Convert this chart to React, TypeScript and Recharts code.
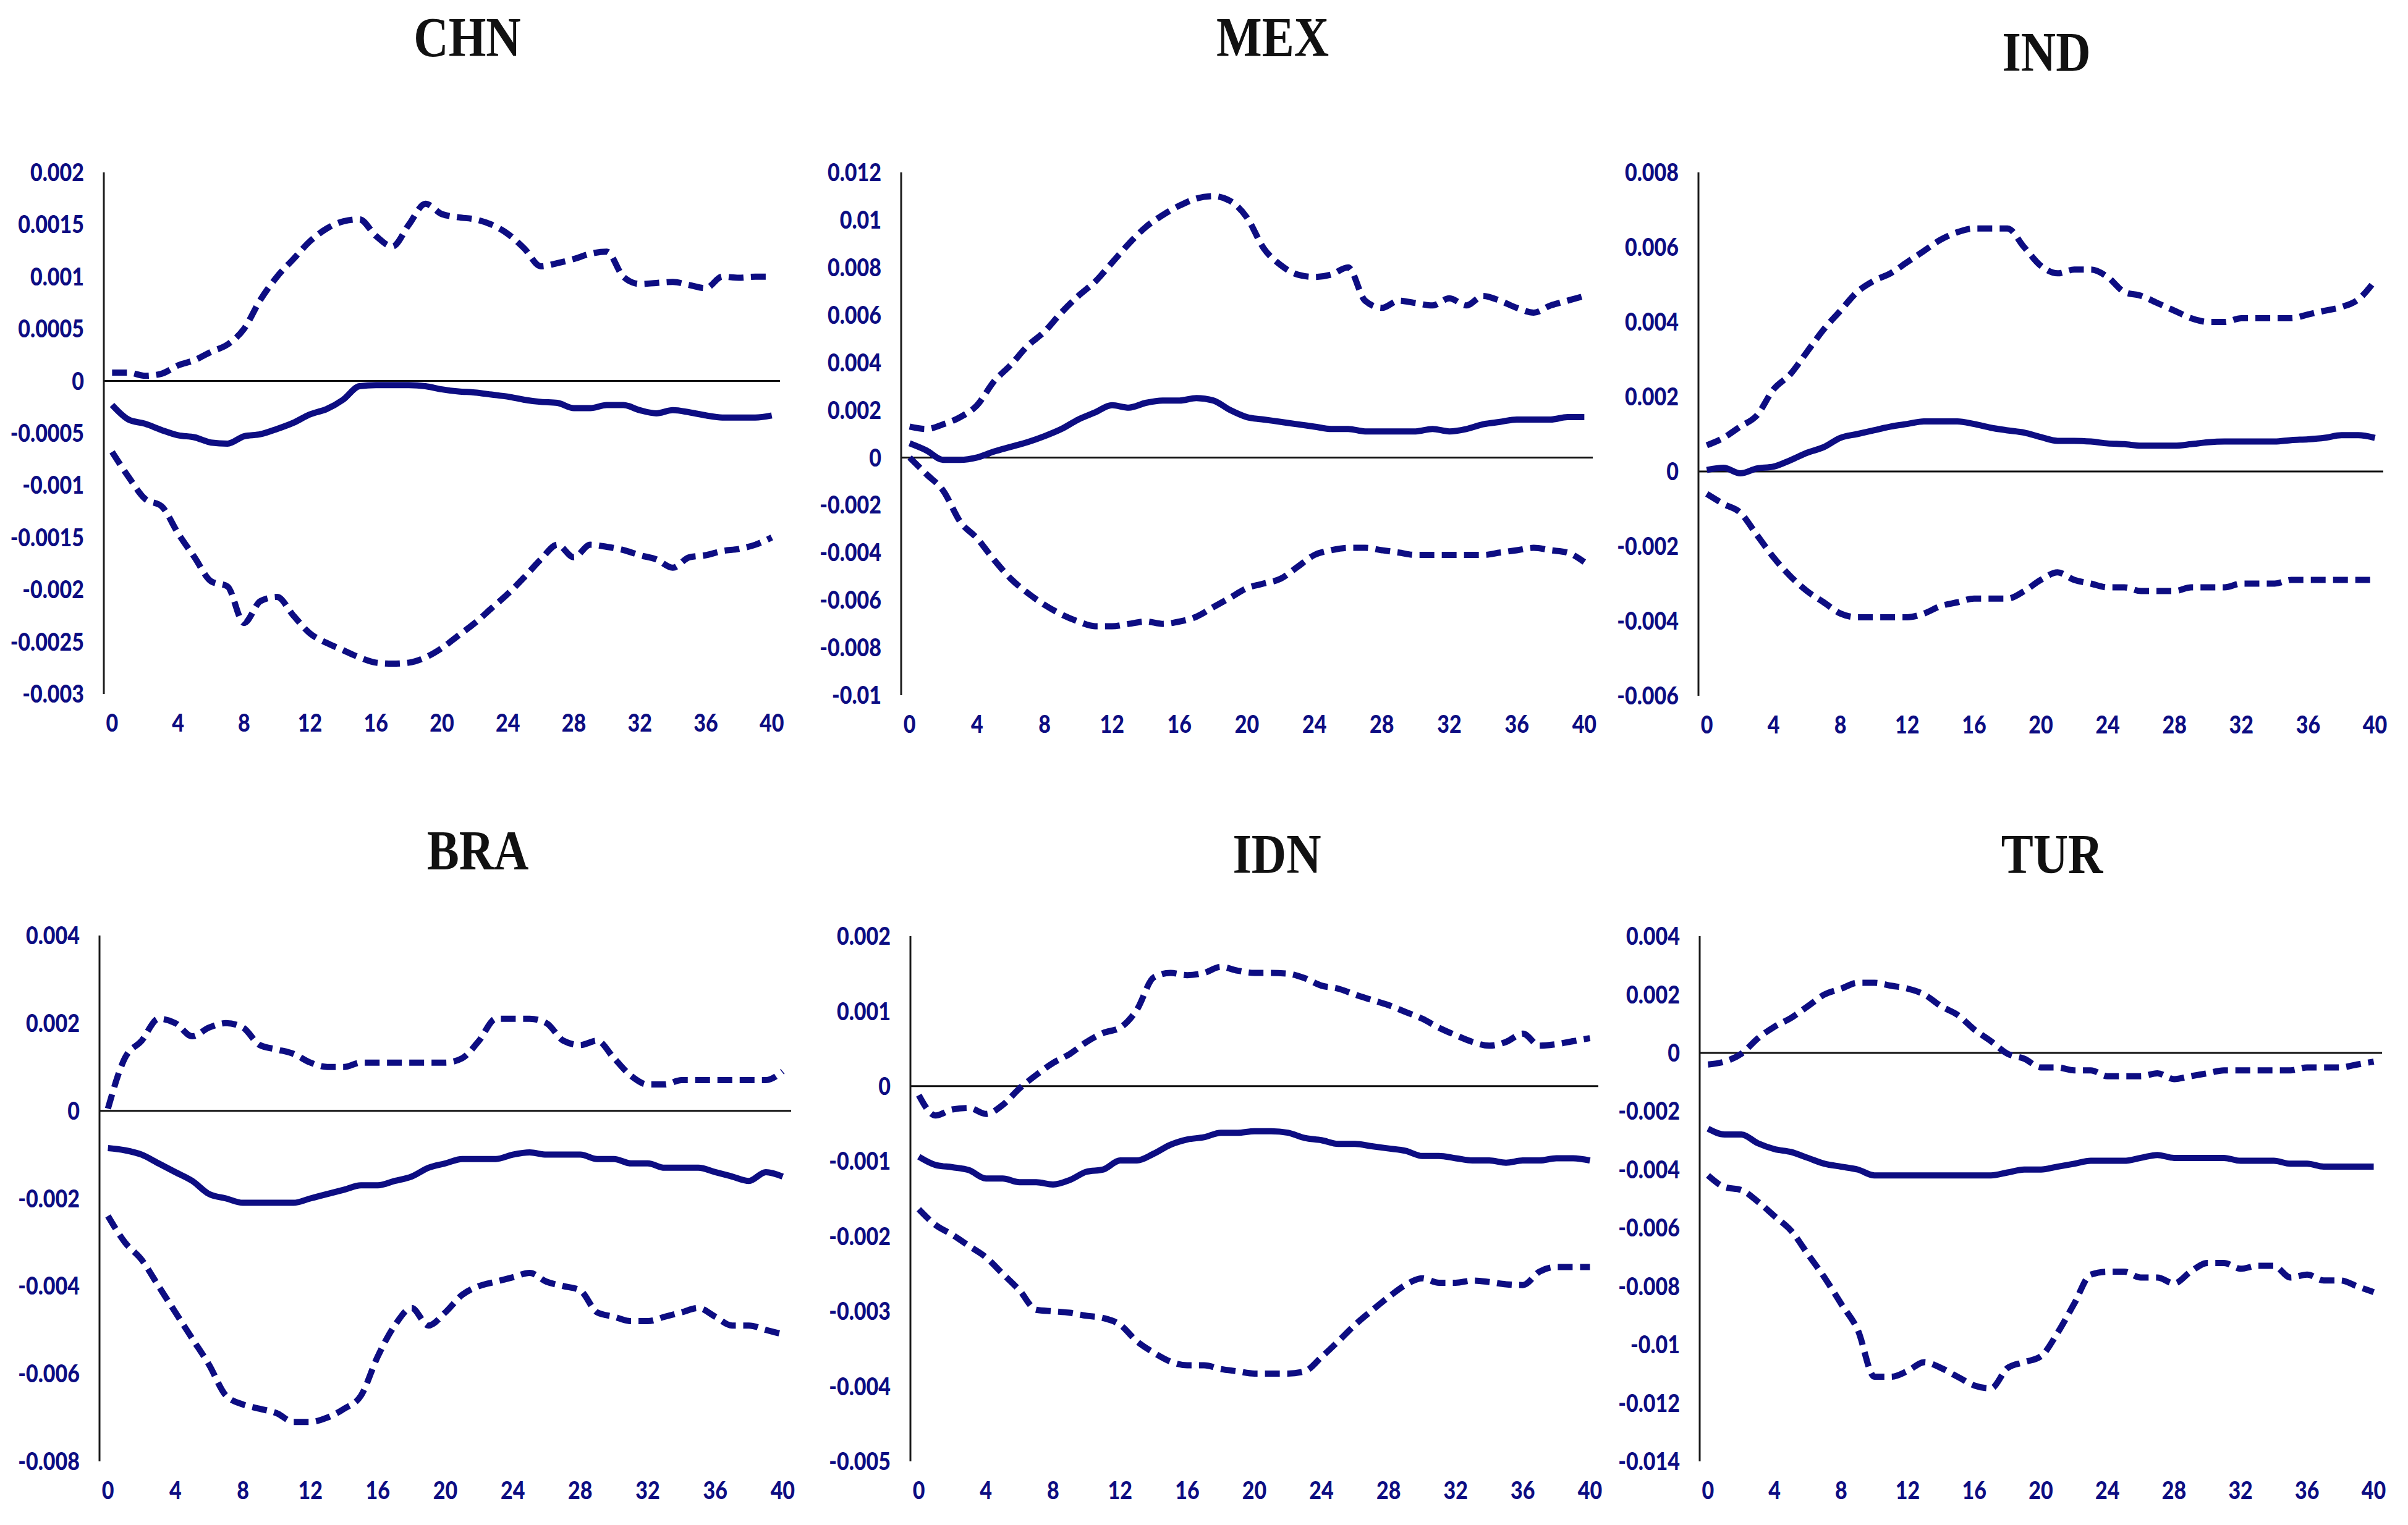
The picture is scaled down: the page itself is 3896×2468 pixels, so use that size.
import { LineChart, Line, XAxis, YAxis, ReferenceLine } from "recharts";

// horizon (quarters) and the labelled ticks on the x axis
const HORIZON = [0, 1, 2, 3, 4, 5, 6, 7, 8, 9, 10, 11, 12, 13, 14, 15, 16, 17, 18, 19, 20, 21, 22, 23, 24, 25, 26, 27, 28, 29, 30, 31, 32, 33, 34, 35, 36, 37, 38, 39, 40];
const HORIZON_TICKS = [0, 4, 8, 12, 16, 20, 24, 28, 32, 36, 40];

// CHN
const CHN_UP = [0.00008, 0.00008, 0.00005, 0.00007, 0.00015, 0.0002, 0.00028, 0.00035, 0.0005, 0.00078, 0.001, 0.00117, 0.00134, 0.00146, 0.00153, 0.00155, 0.00139, 0.00129, 0.0015, 0.0017, 0.0016, 0.00157, 0.00155, 0.0015, 0.00141, 0.00127, 0.0011, 0.00113, 0.00117, 0.00122, 0.00124, 0.001, 0.00093, 0.00094, 0.00095, 0.00092, 0.00089, 0.001, 0.00099, 0.001, 0.001];
const CHN_IRF = [-0.00023, -0.00037, -0.00041, -0.00047, -0.00052, -0.00054, -0.00059, -0.0006, -0.00053, -0.00051, -0.00046, -0.0004, -0.00032, -0.00027, -0.00018, -0.00005, -0.00004, -0.00004, -0.00004, -0.00005, -0.00008, -0.0001, -0.00011, -0.00013, -0.00015, -0.00018, -0.0002, -0.00021, -0.00026, -0.00026, -0.00023, -0.00023, -0.00028, -0.00031, -0.00028, -0.0003, -0.00033, -0.00035, -0.00035, -0.00035, -0.00033];
const CHN_LO = [-0.00068, -0.00092, -0.00113, -0.0012, -0.00146, -0.00169, -0.00192, -0.00197, -0.00232, -0.00211, -0.00207, -0.00225, -0.00242, -0.00251, -0.00258, -0.00265, -0.0027, -0.00271, -0.0027, -0.00265, -0.00256, -0.00244, -0.00232, -0.00218, -0.00204, -0.00188, -0.00171, -0.00157, -0.00169, -0.00157, -0.00159, -0.00162, -0.00167, -0.00171, -0.00179, -0.00169, -0.00167, -0.00163, -0.00161, -0.00157, -0.0015];
const CHN_TICKS = [-0.003, -0.0025, -0.002, -0.0015, -0.001, -0.0005, 0, 0.0005, 0.001, 0.0015, 0.002];

// MEX
const MEX_UP = [0.0013, 0.0012, 0.0014, 0.0017, 0.0022, 0.0032, 0.0039, 0.0047, 0.0053, 0.0061, 0.0068, 0.0074, 0.0082, 0.009, 0.0097, 0.0102, 0.0106, 0.0109, 0.011, 0.0108, 0.0101, 0.0088, 0.0081, 0.0077, 0.0076, 0.0077, 0.008, 0.0066, 0.0063, 0.0066, 0.0065, 0.0064, 0.0067, 0.0064, 0.0068, 0.0066, 0.0063, 0.0061, 0.0064, 0.0066, 0.0068];
const MEX_IRF = [0.0006, 0.0003, -0.0001, -0.0001, 0, 0.00025, 0.00045, 0.00065, 0.0009, 0.0012, 0.0016, 0.0019, 0.0022, 0.0021, 0.0023, 0.0024, 0.0024, 0.0025, 0.0024, 0.002, 0.0017, 0.0016, 0.0015, 0.0014, 0.0013, 0.0012, 0.0012, 0.0011, 0.0011, 0.0011, 0.0011, 0.0012, 0.0011, 0.0012, 0.0014, 0.0015, 0.0016, 0.0016, 0.0016, 0.0017, 0.0017];
const MEX_LO = [0, -0.0007, -0.0014, -0.0027, -0.0034, -0.0043, -0.0051, -0.0057, -0.0062, -0.0066, -0.0069, -0.0071, -0.0071, -0.007, -0.0069, -0.007, -0.0069, -0.0067, -0.0063, -0.0059, -0.0055, -0.0053, -0.0051, -0.0046, -0.0041, -0.0039, -0.0038, -0.0038, -0.0039, -0.004, -0.0041, -0.0041, -0.0041, -0.0041, -0.0041, -0.004, -0.0039, -0.0038, -0.0039, -0.004, -0.0044];
const MEX_TICKS = [-0.01, -0.008, -0.006, -0.004, -0.002, 0, 0.002, 0.004, 0.006, 0.008, 0.01, 0.012];

// IND
const IND_UP = [0.0007, 0.0009, 0.0012, 0.0015, 0.0022, 0.0026, 0.0032, 0.0038, 0.0043, 0.0048, 0.0051, 0.0053, 0.0056, 0.0059, 0.0062, 0.0064, 0.0065, 0.0065, 0.0065, 0.006, 0.0055, 0.0053, 0.0054, 0.0054, 0.0052, 0.0048, 0.0047, 0.0045, 0.0043, 0.0041, 0.004, 0.004, 0.0041, 0.0041, 0.0041, 0.0041, 0.0042, 0.0043, 0.0044, 0.0046, 0.0051];
const IND_IRF = [0.00004, 0.0001, -0.00005, 0.00008, 0.00013, 0.0003, 0.0005, 0.00065, 0.0009, 0.001, 0.0011, 0.0012, 0.00127, 0.00134, 0.00134, 0.00134, 0.00127, 0.00117, 0.0011, 0.00104, 0.00092, 0.00082, 0.00082, 0.0008, 0.00075, 0.00073, 0.00069, 0.00069, 0.00069, 0.00073, 0.00078, 0.0008, 0.0008, 0.0008, 0.0008, 0.00084, 0.00086, 0.0009, 0.00097, 0.00097, 0.0009];
const IND_LO = [-0.0006, -0.00087, -0.0011, -0.0017, -0.0023, -0.0028, -0.0032, -0.0035, -0.0038, -0.0039, -0.0039, -0.0039, -0.0039, -0.0038, -0.0036, -0.0035, -0.0034, -0.0034, -0.0034, -0.0032, -0.0029, -0.0027, -0.0029, -0.003, -0.0031, -0.0031, -0.0032, -0.0032, -0.0032, -0.0031, -0.0031, -0.0031, -0.003, -0.003, -0.003, -0.0029, -0.0029, -0.0029, -0.0029, -0.0029, -0.0029];
const IND_TICKS = [-0.006, -0.004, -0.002, 0, 0.002, 0.004, 0.006, 0.008];

// BRA
const BRA_UP = [0.00005, 0.0012, 0.0016, 0.0021, 0.002, 0.0017, 0.0019, 0.002, 0.0019, 0.0015, 0.0014, 0.0013, 0.0011, 0.001, 0.001, 0.0011, 0.0011, 0.0011, 0.0011, 0.0011, 0.0011, 0.0012, 0.0016, 0.0021, 0.0021, 0.0021, 0.002, 0.0016, 0.0015, 0.0016, 0.0012, 0.0008, 0.0006, 0.0006, 0.0007, 0.0007, 0.0007, 0.0007, 0.0007, 0.0007, 0.0009];
const BRA_IRF = [-0.00085, -0.0009, -0.001, -0.0012, -0.0014, -0.0016, -0.0019, -0.002, -0.0021, -0.0021, -0.0021, -0.0021, -0.002, -0.0019, -0.0018, -0.0017, -0.0017, -0.0016, -0.0015, -0.0013, -0.0012, -0.0011, -0.0011, -0.0011, -0.001, -0.00095, -0.001, -0.001, -0.001, -0.0011, -0.0011, -0.0012, -0.0012, -0.0013, -0.0013, -0.0013, -0.0014, -0.0015, -0.0016, -0.0014, -0.0015];
const BRA_LO = [-0.0024, -0.003, -0.0034, -0.004, -0.0046, -0.0052, -0.0058, -0.0065, -0.0067, -0.0068, -0.0069, -0.0071, -0.0071, -0.007, -0.0068, -0.0065, -0.0056, -0.0049, -0.0045, -0.0049, -0.0046, -0.0042, -0.004, -0.0039, -0.0038, -0.0037, -0.0039, -0.004, -0.0041, -0.0046, -0.0047, -0.0048, -0.0048, -0.0047, -0.0046, -0.0045, -0.0047, -0.0049, -0.0049, -0.005, -0.0051];
const BRA_TICKS = [-0.008, -0.006, -0.004, -0.002, 0, 0.002, 0.004];

// IDN
const IDN_UP = [-0.00012, -0.00039, -0.00031, -0.00029, -0.00037, -0.00025, -0.00003, 0.00015, 0.00031, 0.00043, 0.00059, 0.00071, 0.00078, 0.00102, 0.00145, 0.00151, 0.00148, 0.00151, 0.00159, 0.00154, 0.00151, 0.00151, 0.0015, 0.00144, 0.00134, 0.0013, 0.00122, 0.00115, 0.00108, 0.00099, 0.0009, 0.00078, 0.00068, 0.00059, 0.00054, 0.00059, 0.0007, 0.00054, 0.00056, 0.0006, 0.00064];
const IDN_IRF = [-0.00094, -0.00105, -0.00108, -0.00112, -0.00123, -0.00123, -0.00128, -0.00128, -0.00131, -0.00125, -0.00114, -0.00111, -0.00099, -0.00099, -0.0009, -0.00078, -0.00071, -0.00068, -0.00062, -0.00062, -0.0006, -0.0006, -0.00062, -0.00069, -0.00072, -0.00077, -0.00077, -0.0008, -0.00083, -0.00086, -0.00093, -0.00093, -0.00096, -0.00099, -0.00099, -0.00102, -0.00099, -0.00099, -0.00096, -0.00096, -0.00099];
const IDN_LO = [-0.00164, -0.00185, -0.00198, -0.00213, -0.00228, -0.0025, -0.00272, -0.00298, -0.003, -0.00302, -0.00306, -0.00309, -0.00318, -0.0034, -0.00355, -0.00367, -0.00372, -0.00372, -0.00377, -0.0038, -0.00383, -0.00383, -0.00383, -0.0038, -0.00361, -0.0034, -0.00318, -0.00299, -0.00281, -0.00265, -0.00256, -0.00262, -0.00262, -0.00259, -0.00261, -0.00264, -0.00265, -0.00247, -0.00241, -0.00241, -0.00241];
const IDN_TICKS = [-0.005, -0.004, -0.003, -0.002, -0.001, 0, 0.001, 0.002];

// TUR
const TUR_UP = [-0.0004, -0.0003, -0.00003, 0.0005, 0.0009, 0.0012, 0.0016, 0.002, 0.0022, 0.0024, 0.0024, 0.0023, 0.0022, 0.002, 0.0016, 0.0013, 0.0008, 0.0004, -0.00003, -0.0002, -0.0005, -0.0005, -0.0006, -0.0006, -0.0008, -0.0008, -0.0008, -0.0007, -0.0009, -0.0008, -0.0007, -0.0006, -0.0006, -0.0006, -0.0006, -0.0006, -0.0005, -0.0005, -0.0005, -0.0004, -0.0003];
const TUR_IRF = [-0.0026, -0.0028, -0.0028, -0.0031, -0.0033, -0.0034, -0.0036, -0.0038, -0.0039, -0.004, -0.0042, -0.0042, -0.0042, -0.0042, -0.0042, -0.0042, -0.0042, -0.0042, -0.0041, -0.004, -0.004, -0.0039, -0.0038, -0.0037, -0.0037, -0.0037, -0.0036, -0.0035, -0.0036, -0.0036, -0.0036, -0.0036, -0.0037, -0.0037, -0.0037, -0.0038, -0.0038, -0.0039, -0.0039, -0.0039, -0.0039];
const TUR_LO = [-0.0042, -0.0046, -0.0047, -0.0051, -0.0056, -0.0061, -0.0069, -0.0077, -0.0086, -0.0095, -0.0111, -0.0111, -0.0109, -0.0106, -0.0108, -0.0111, -0.0114, -0.0115, -0.0108, -0.0106, -0.0104, -0.0096, -0.0086, -0.0076, -0.0075, -0.0075, -0.0077, -0.0077, -0.0079, -0.0075, -0.0072, -0.0072, -0.0074, -0.0073, -0.0073, -0.0077, -0.0076, -0.0078, -0.0078, -0.008, -0.0082];
const TUR_TICKS = [-0.014, -0.012, -0.01, -0.008, -0.006, -0.004, -0.002, 0, 0.002, 0.004];

const NAVY = "#0d0d82";
const Y_AXIS_W = 170;
const X_AXIS_H = 100;
const PAD_TOP = 30;
const PAD_RIGHT = 10;

// where each panel sits on the page (plot area edges, title centre)
const PANELS = [
  { title: "CHN", up: CHN_UP, irf: CHN_IRF, lo: CHN_LO, ticks: CHN_TICKS, box: { axisX: 168, plotRight: 1262, plotTop: 279, plotBottom: 1123, titleX: 756, titleY: 60 } },
  { title: "MEX", up: MEX_UP, irf: MEX_IRF, lo: MEX_LO, ticks: MEX_TICKS, box: { axisX: 1458, plotRight: 2577, plotTop: 279, plotBottom: 1125, titleX: 2059, titleY: 60 } },
  { title: "IND", up: IND_UP, irf: IND_IRF, lo: IND_LO, ticks: IND_TICKS, box: { axisX: 2748, plotRight: 3856, plotTop: 279, plotBottom: 1126, titleX: 3311, titleY: 84 } },
  { title: "BRA", up: BRA_UP, irf: BRA_IRF, lo: BRA_LO, ticks: BRA_TICKS, box: { axisX: 161, plotRight: 1280, plotTop: 1514, plotBottom: 2365, titleX: 773, titleY: 1376 } },
  { title: "IDN", up: IDN_UP, irf: IDN_IRF, lo: IDN_LO, ticks: IDN_TICKS, box: { axisX: 1473, plotRight: 2586, plotTop: 1515, plotBottom: 2365, titleX: 2066, titleY: 1382 } },
  { title: "TUR", up: TUR_UP, irf: TUR_IRF, lo: TUR_LO, ticks: TUR_TICKS, box: { axisX: 2750, plotRight: 3854, plotTop: 1515, plotBottom: 2365, titleX: 3320, titleY: 1382 } },
];

const labelStyle = {
  fill: NAVY,
  fontFamily: "Lato, 'Open Sans', sans-serif",
  fontWeight: 900,
  fontSize: 34,
};

const YTick = ({ x, y, payload }: any) => (
  <g transform={`translate(${x},${y})`}>
    <text textAnchor="end" dy="0.36em" transform="scale(1,1.15)" {...labelStyle}>
      {String(payload.value)}
    </text>
  </g>
);

const XTick = ({ x, y, payload }: any) => (
  <g transform={`translate(${x},${y})`}>
    <text textAnchor="middle" dy="0.36em" transform="scale(1,1.15)" {...labelStyle}>
      {String(payload.value)}
    </text>
  </g>
);

const Panel = ({ title, up, irf, lo, ticks, box }: any) => {
  const data = HORIZON.map((h, i) => ({ h, up: up[i], irf: irf[i], lo: lo[i] }));
  const width = Y_AXIS_W + (box.plotRight - box.axisX) + PAD_RIGHT;
  const height = PAD_TOP + (box.plotBottom - box.plotTop) + X_AXIS_H;

  return (
    <>
      <div
        style={{
          position: "absolute",
          left: box.titleX,
          top: box.titleY,
          transform: "translate(-50%, -50%) scale(1, 1.18)",
          fontFamily: "'Liberation Serif', 'Times New Roman', serif",
          fontWeight: 700,
          fontSize: 78,
          lineHeight: 1,
          color: "#111",
          whiteSpace: "nowrap",
        }}
      >
        {title}
      </div>
      <div style={{ position: "absolute", left: box.axisX - Y_AXIS_W, top: box.plotTop - PAD_TOP }}>
        <LineChart
          width={width}
          height={height}
          data={data}
          margin={{ top: PAD_TOP, right: PAD_RIGHT, bottom: 0, left: 0 }}
        >
          <XAxis
            dataKey="h"
            type="number"
            domain={[-0.5, 40.5]}
            ticks={HORIZON_TICKS}
            interval={0}
            axisLine={false}
            tickLine={false}
            tickSize={0}
            tickMargin={47}
            height={X_AXIS_H}
            tick={(p: any) => <XTick {...p} />}
          />
          <YAxis
            type="number"
            domain={[ticks[0], ticks[ticks.length - 1]]}
            ticks={ticks}
            interval={0}
            width={Y_AXIS_W}
            axisLine={{ stroke: "#1a1a1a", strokeWidth: 3 }}
            tickLine={false}
            tickSize={0}
            tickMargin={32}
            tick={(p: any) => <YTick {...p} />}
          />
          <ReferenceLine y={0} stroke="#111" strokeWidth={3} />
          <Line dataKey="up" type="monotone" stroke={NAVY} strokeWidth={10} strokeDasharray="24 12" dot={false} isAnimationActive={false} />
          <Line dataKey="irf" type="monotone" stroke={NAVY} strokeWidth={10} dot={false} isAnimationActive={false} />
          <Line dataKey="lo" type="monotone" stroke={NAVY} strokeWidth={10} strokeDasharray="24 12" dot={false} isAnimationActive={false} />
        </LineChart>
      </div>
    </>
  );
};

export default function App() {
  return (
    <div style={{ position: "absolute", left: 0, top: 0, width: 3896, height: 2468, background: "#fff", overflow: "hidden" }}>
      {PANELS.map((p) => (
        <Panel key={p.title} {...p} />
      ))}
    </div>
  );
}
